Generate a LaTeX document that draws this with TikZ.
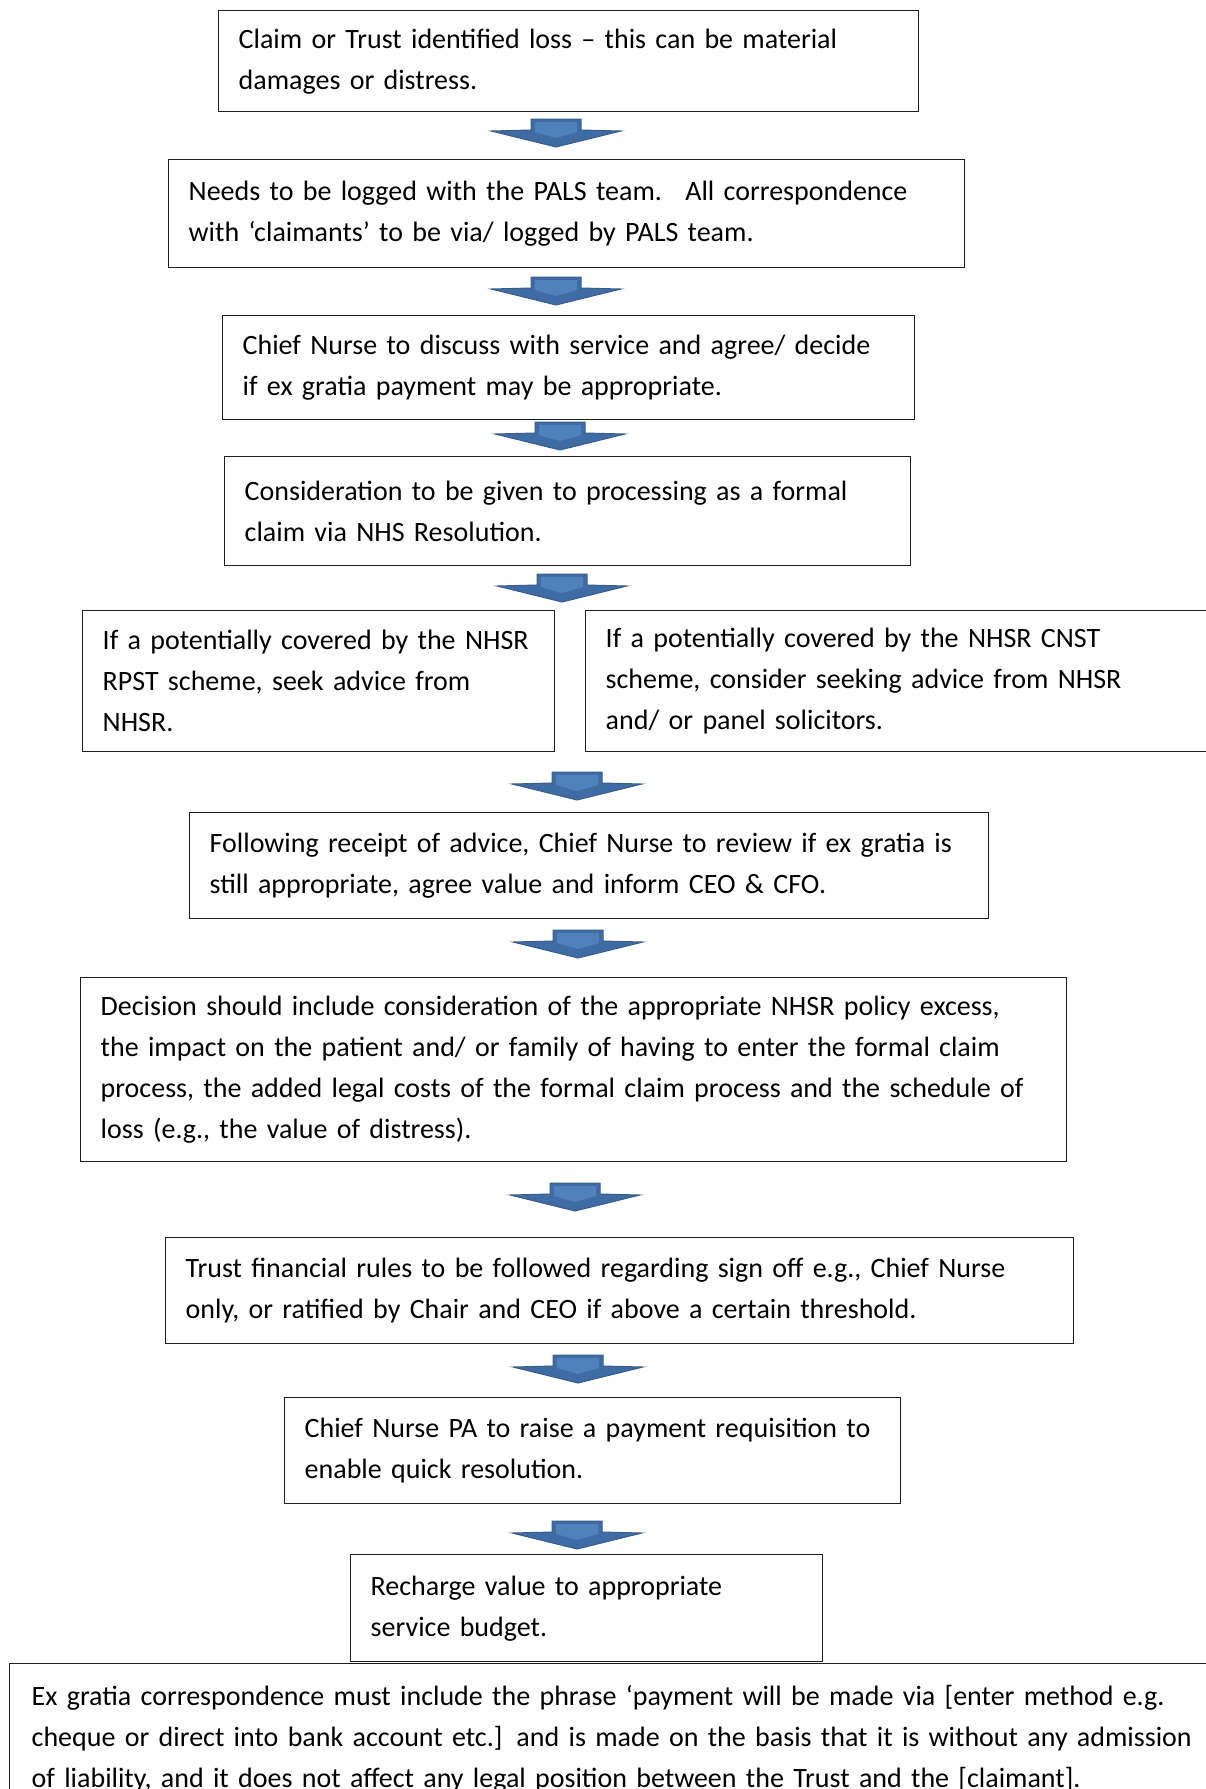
\documentclass[tikz,border=0pt]{standalone}
\usepackage{fontspec}
\setmainfont{Carlito}
\definecolor{arrowdark}{RGB}{56,93,138}
\definecolor{arrowmid}{RGB}{64,108,165}
\definecolor{arrowlight}{RGB}{79,129,189}
\definecolor{boxline}{RGB}{30,30,30}
\newcommand{\myl}[1]{\leavevmode\hbox{#1}}
\tikzset{
  flowbox/.style={draw=boxline, line width=1.4pt, anchor=north west, align=left,
    inner xsep=20pt, inner ysep=0pt, font=\fontsize{28}{41}\selectfont},
  blockarrow/.pic={
    \filldraw[fill=arrowmid, draw=arrowdark, line width=1pt]
      (-25,0) -- (25,0) -- (25,11) -- (65,12) -- (0,28) -- (-65,12) -- (-25,11) -- cycle;
    \fill[arrowlight] (-21,3) -- (21,3) -- (21,13) -- (0,19) -- (-21,13) -- cycle;
  }
}
\begin{document}
\begin{tikzpicture}[x=1pt,y=-1pt]
\useasboundingbox (0,0) rectangle (1206,1789);
\clip (0,0) rectangle (1206,1789);

\node[flowbox, minimum width=700, minimum height=101, text width=660] (b1) at (218,10)
  {\myl{Claim or Trust identified loss – this can be material}\\\myl{damages or distress.}};
\node[flowbox, minimum width=796, minimum height=108, text width=756] (b2) at (168,159)
  {\myl{Needs to be logged with the PALS team.~ All correspondence}\\\myl{with ‘claimants’ to be via/ logged by PALS team.}};
\node[flowbox, minimum width=692, minimum height=104, text width=652] (b3) at (222,315)
  {\myl{Chief Nurse to discuss with service and agree/ decide}\\\myl{if ex gratia payment may be appropriate.}};
\node[flowbox, minimum width=686, minimum height=109, text width=646] (b4) at (224,456)
  {\myl{Consideration to be given to processing as a formal}\\\myl{claim via NHS Resolution.}};
\node[flowbox, minimum width=472, minimum height=141, text width=432] (b5a) at (82,610)
  {\myl{If a potentially covered by the NHSR}\\\myl{RPST scheme, seek advice from}\\\myl{NHSR.}};
\node[flowbox, minimum width=700, minimum height=141, text width=660] (b5b) at (585,610)
  {\myl{If a potentially covered by the NHSR CNST}\\\myl{scheme, consider seeking advice from NHSR}\\\myl{and/ or panel solicitors.}};
\node[flowbox, minimum width=799, minimum height=106, text width=759] (b6) at (189,812)
  {\myl{Following receipt of advice, Chief Nurse to review if ex gratia is}\\\myl{still appropriate, agree value and inform CEO \& CFO.}};
\node[flowbox, minimum width=986, minimum height=184, text width=946] (b7) at (80,977)
  {\myl{Decision should include consideration of the appropriate NHSR policy excess,}\\
   \myl{the impact on the patient and/ or family of having to enter the formal claim}\\
   \myl{process, the added legal costs of the formal claim process and the schedule of}\\
   \myl{loss (e.g., the value of distress).}};
\node[flowbox, minimum width=908, minimum height=106, text width=868] (b8) at (165,1237)
  {\myl{Trust financial rules to be followed regarding sign off e.g., Chief Nurse}\\\myl{only, or ratified by Chair and CEO if above a certain threshold.}};
\node[flowbox, minimum width=616, minimum height=106, text width=576] (b9) at (284,1397)
  {\myl{Chief Nurse PA to raise a payment requisition to}\\\myl{enable quick resolution.}};
\node[flowbox, minimum width=472, minimum height=107, text width=432] (b10) at (350,1554)
  {\myl{Recharge value to appropriate}\\\myl{service budget.}};
\node[flowbox, minimum width=1300, minimum height=150, text width=1256, inner xsep=22pt] (b11) at (9,1663)
  {\myl{Ex gratia correspondence must include the phrase ‘payment will be made via [enter method e.g.}\\
   \myl{cheque or direct into bank account etc.] and is made on the basis that it is without any admission}\\
   \myl{of liability, and it does not affect any legal position between the Trust and the [claimant].}};

\coordinate (a1) at (556,119);
\coordinate (a2) at (556,277);
\coordinate (a3) at (560,422);
\coordinate (a4) at (562,574);
\coordinate (a5) at (577,772);
\coordinate (a6) at (578,930);
\coordinate (a7) at (575,1183);
\coordinate (a8) at (578,1355);
\coordinate (a9) at (577,1521);
\foreach \a in {a1,a2,a3,a4,a5,a6,a7,a8,a9} {
  \pic at (\a) {blockarrow};
}
\end{tikzpicture}
\end{document}
